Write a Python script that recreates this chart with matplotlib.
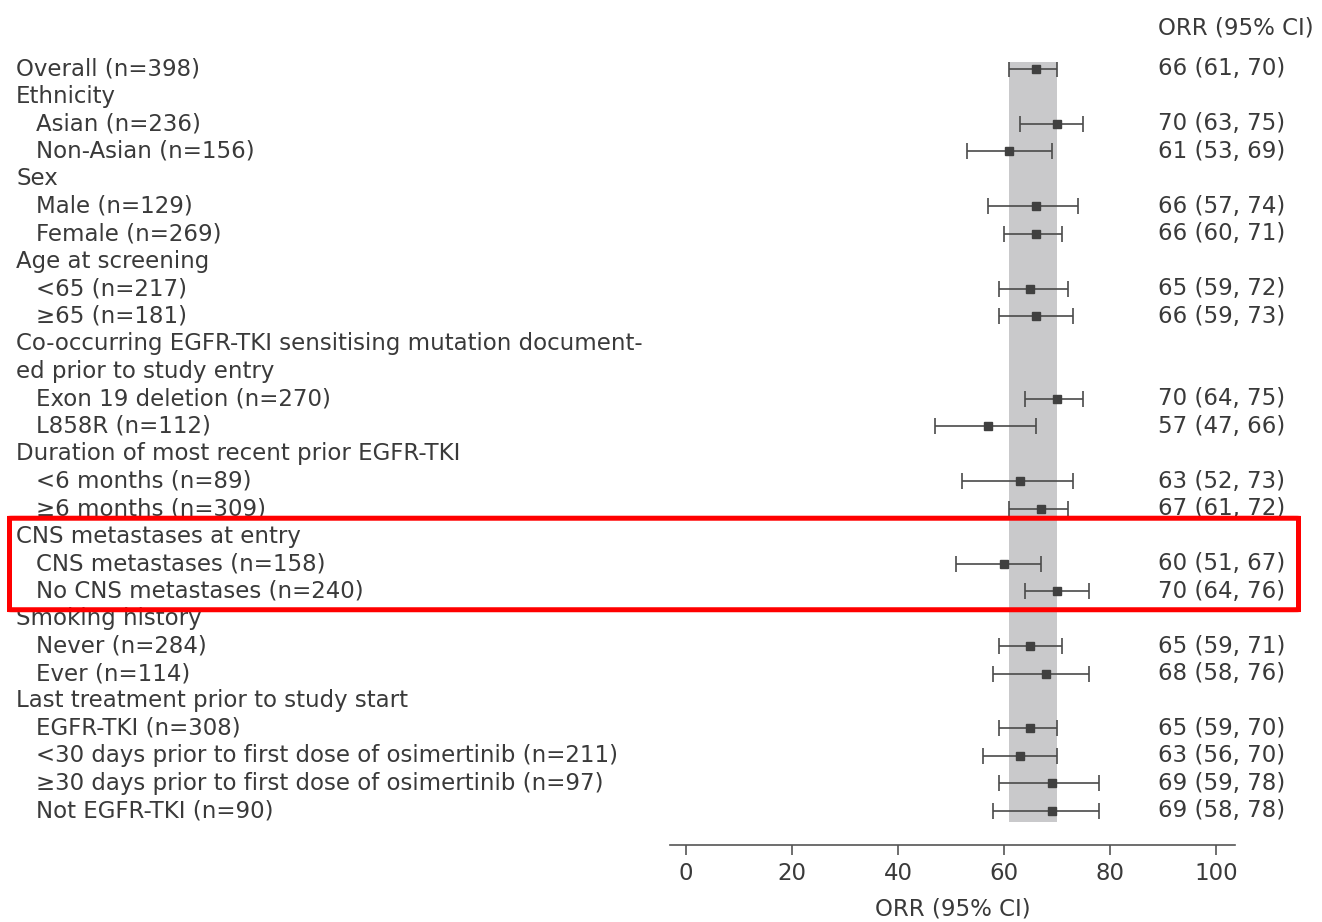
import matplotlib.pyplot as plt
import matplotlib.transforms as mtransforms
from matplotlib.patches import FancyBboxPatch

plt.rcParams['font.family'] = ['DejaVu Sans']

# subgroup rows, top to bottom; headers have no estimate
labels = [
    "Overall (n=398)",
    "Ethnicity",
    "Asian (n=236)",
    "Non-Asian (n=156)",
    "Sex",
    "Male (n=129)",
    "Female (n=269)",
    "Age at screening",
    "<65 (n=217)",
    "\u226565 (n=181)",
    "Co-occurring EGFR-TKI sensitising mutation document-",
    "ed prior to study entry",
    "Exon 19 deletion (n=270)",
    "L858R (n=112)",
    "Duration of most recent prior EGFR-TKI",
    "<6 months (n=89)",
    "\u22656 months (n=309)",
    "CNS metastases at entry",
    "CNS metastases (n=158)",
    "No CNS metastases (n=240)",
    "Smoking history",
    "Never (n=284)",
    "Ever (n=114)",
    "Last treatment prior to study start",
    "EGFR-TKI (n=308)",
    "<30 days prior to first dose of osimertinib (n=211)",
    "\u226530 days prior to first dose of osimertinib (n=97)",
    "Not EGFR-TKI (n=90)",
]
indented = [0, 0, 1, 1, 0, 1, 1, 0, 1, 1, 0, 0, 1, 1, 0, 1, 1, 0, 1, 1,
            0, 1, 1, 0, 1, 1, 1, 1]
orr = [66, None, 70, 61, None, 66, 66, None, 65, 66, None, None, 70, 57,
       None, 63, 67, None, 60, 70, None, 65, 68, None, 65, 63, 69, 69]
ci_low = [61, None, 63, 53, None, 57, 60, None, 59, 59, None, None, 64, 47,
          None, 52, 61, None, 51, 64, None, 59, 58, None, 59, 56, 59, 58]
ci_high = [70, None, 75, 69, None, 74, 71, None, 72, 73, None, None, 75, 66,
           None, 73, 72, None, 67, 76, None, 71, 76, None, 70, 70, 78, 78]

overall_ci = (61, 70)
xticks = [0, 20, 40, 60, 80, 100]

W, H = 1322, 922
fs = 16.5
fig = plt.figure(figsize=(W / 100, H / 100), dpi=100)
ax = fig.add_axes([670 / W, (H - 845) / H, 565 / W, (845 - 62) / H])

n = len(labels)
rows = list(range(n))
ax.set_xlim(-3.02, 103.6)
ax.set_ylim(28.24, -0.25)

txt = '#3a3a3a'
mark = '#404040'

# shaded band for the overall CI
ax.fill_betweenx([-0.25, 27.4], overall_ci[0], overall_ci[1],
                 color='#c9c9cb', lw=0, zorder=0)

for i in rows:
    if orr[i] is None:
        continue
    ax.errorbar(orr[i], i, xerr=[[orr[i] - ci_low[i]], [ci_high[i] - orr[i]]],
                fmt='s', ms=6, mfc=mark, mec=mark, ecolor='#4a4a4a',
                elinewidth=1.2, capsize=6, capthick=1.2, zorder=3)

for s in ['top', 'right', 'left']:
    ax.spines[s].set_visible(False)
ax.spines['bottom'].set_color('#555555')
ax.spines['bottom'].set_linewidth(1.2)
ax.set_yticks([])
ax.set_xticks(xticks)
ax.tick_params(axis='x', direction='out', length=7, width=1.2,
               color='#555555', labelsize=fs, labelcolor=txt, pad=5)
ax.set_xlabel("ORR (95% CI)", fontsize=fs, color=txt, labelpad=9)

# row labels on the left, ORR text on the right
tr = mtransforms.blended_transform_factory(fig.transFigure, ax.transData)
for i in rows:
    x0 = (36 if indented[i] else 16) / W
    ax.text(x0, i, labels[i], transform=tr, fontsize=fs, color=txt,
            ha='left', va='center', clip_on=False)
    if orr[i] is not None:
        ax.text(1158 / W, i, f"{orr[i]} ({ci_low[i]}, {ci_high[i]})",
                transform=tr, fontsize=fs, color=txt,
                ha='left', va='center', clip_on=False)

fig.text(1158 / W, 1 - 28 / H, "ORR (95% CI)", fontsize=fs, color=txt,
         ha='left', va='center')

# highlight box around the CNS subgroup
top, bottom = 16.35, 19.68
box = FancyBboxPatch((9.5 / W, top), (1298.5 - 9.5) / W, bottom - top,
                     boxstyle='round,pad=0,rounding_size=0.004',
                     transform=tr, fill=False, ec='#ff0000', lw=3.6,
                     clip_on=False, zorder=10)
ax.add_artist(box)

fig.savefig('out.png', dpi=100)
